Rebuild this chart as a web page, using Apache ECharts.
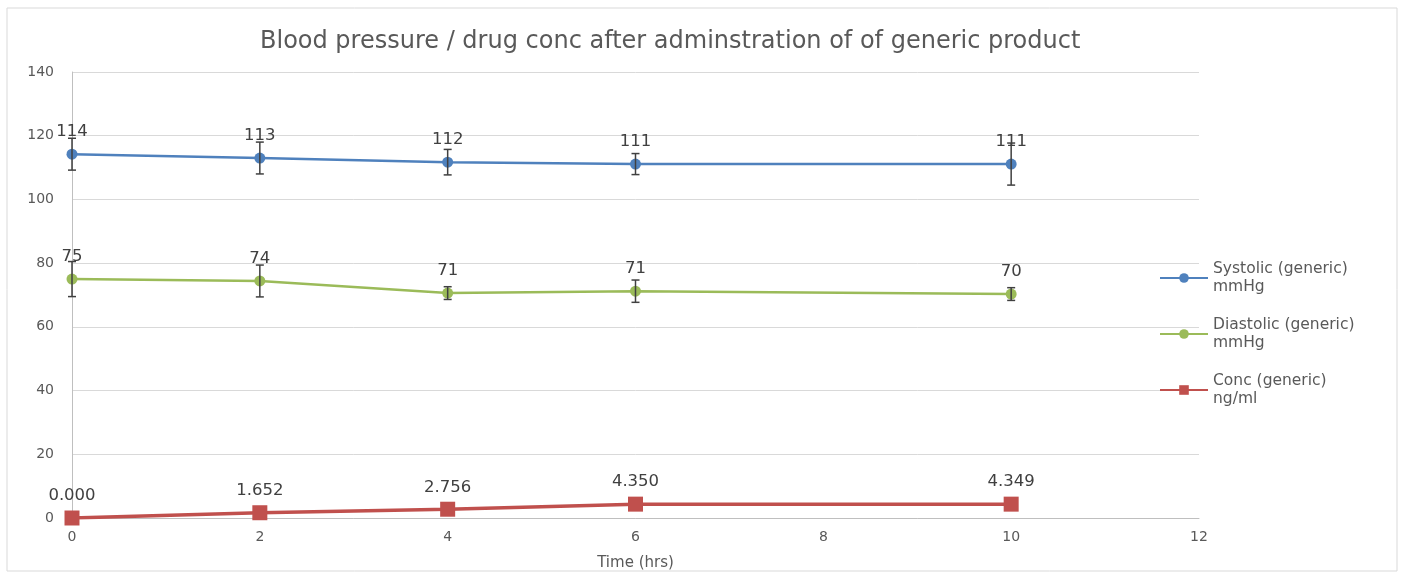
<!DOCTYPE html>
<html>
<head>
<meta charset="utf-8">
<script src="https://cdn.jsdelivr.net/npm/echarts@6/dist/echarts.min.js"></script>
<style>html,body{margin:0;padding:0;background:#fff}#chart{width:1405px;height:577px}</style>
</head>
<body>
<div id="chart"></div>
<script>
const timeHrs = [0, 2, 4, 6, 10];
const systolic = [114.2, 113.0, 111.7, 111.1, 111.1];
const systolicErr = [5, 5, 4, 3.3, 6.6];
const diastolic = [75.0, 74.4, 70.6, 71.2, 70.3];
const diastolicErr = [5.5, 5, 2, 3.5, 2];
const conc = [0.000, 1.652, 2.756, 4.350, 4.349];
const seriesNames = ['Systolic (generic)\nmmHg', 'Diastolic (generic)\nmmHg', 'Conc (generic)\nng/ml'];
const xTicks = [0, 2, 4, 6, 8, 10, 12];
const yTicks = [0, 20, 40, 60, 80, 100, 120, 140];
const titleText = 'Blood pressure / drug conc after adminstration of of generic product';

const FONT = 'DejaVu Sans';
const pairs = (ys) => timeHrs.map((t, i) => [t, ys[i]]);
const errData = (ys, es) => timeHrs.map((t, i) => [t, ys[i] - es[i], ys[i] + es[i]]);

function errorBar(params, api) {
  const x = api.value(0);
  const lo = api.coord([x, api.value(1)]);
  const hi = api.coord([x, api.value(2)]);
  const cap = 4;
  const st = { stroke: '#404040', lineWidth: 1.5 };
  return {
    type: 'group',
    children: [
      { type: 'line', shape: { x1: lo[0], y1: lo[1], x2: hi[0], y2: hi[1] }, style: st },
      { type: 'line', shape: { x1: lo[0] - cap, y1: lo[1], x2: lo[0] + cap, y2: lo[1] }, style: st },
      { type: 'line', shape: { x1: hi[0] - cap, y1: hi[1], x2: hi[0] + cap, y2: hi[1] }, style: st }
    ]
  };
}

const chart = echarts.init(document.getElementById('chart'), null, { renderer: 'canvas' });
chart.setOption({
  backgroundColor: '#fff',
  animation: false,
  graphic: [{
    type: 'rect', shape: { x: 7, y: 8, width: 1390, height: 563 },
    style: { fill: 'none', stroke: '#d9d9d9', lineWidth: 1 }, silent: true, z: -10
  }],
  title: {
    text: titleText, left: 255, top: 25,
    textStyle: { fontFamily: FONT, fontSize: 24, fontWeight: 'normal', color: '#595959' }
  },
  grid: { left: 72, right: 206, top: 72, bottom: 59 },
  legend: {
    orient: 'vertical', left: 1154, top: 246, itemGap: 2,
    itemWidth: 48, itemHeight: 12,
    data: seriesNames,
    textStyle: { fontFamily: FONT, fontSize: 15.5, color: '#595959', lineHeight: 18, padding: [18, 0, 0, 0] }
  },
  xAxis: {
    type: 'value', min: 0, max: 12, interval: 2,
    name: 'Time (hrs)', nameLocation: 'middle', nameGap: 38,
    nameTextStyle: { fontFamily: FONT, fontSize: 15, color: '#595959' },
    axisLine: { lineStyle: { color: '#bfbfbf' } },
    axisTick: { show: false },
    axisLabel: { fontFamily: FONT, fontSize: 14, color: '#595959', margin: 12 },
    splitLine: { show: false }
  },
  yAxis: {
    type: 'value', min: 0, max: 140, interval: 20,
    axisLine: { show: true, lineStyle: { color: '#bfbfbf' } },
    axisTick: { show: false },
    axisLabel: { fontFamily: FONT, fontSize: 14, color: '#595959', margin: 18 },
    splitLine: { lineStyle: { color: '#d9d9d9' } }
  },
  series: [
    {
      name: seriesNames[0], type: 'line', data: pairs(systolic),
      symbol: 'circle', symbolSize: 11,
      lineStyle: { color: '#4f81bd', width: 2.5 }, itemStyle: { color: '#4f81bd' },
      label: { show: true, position: 'top', distance: 8, fontFamily: FONT, fontSize: 16.5, color: '#404040',
        formatter: p => Math.round(p.value[1]).toString() },
      z: 3
    },
    {
      name: seriesNames[1], type: 'line', data: pairs(diastolic),
      symbol: 'circle', symbolSize: 11,
      lineStyle: { color: '#9bbb59', width: 2.5 }, itemStyle: { color: '#9bbb59' },
      label: { show: true, position: 'top', distance: 8, fontFamily: FONT, fontSize: 16.5, color: '#404040',
        formatter: p => Math.round(p.value[1]).toString() },
      z: 3
    },
    {
      name: seriesNames[2], type: 'line', data: pairs(conc),
      symbol: 'rect', symbolSize: 15,
      lineStyle: { color: '#c0504d', width: 3.5 }, itemStyle: { color: '#c0504d' },
      label: { show: true, position: 'top', distance: 6, fontFamily: FONT, fontSize: 16.5, color: '#404040',
        formatter: p => p.value[1].toFixed(3) },
      z: 3
    },
    { type: 'custom', renderItem: errorBar, data: errData(systolic, systolicErr), z: 5, silent: true },
    { type: 'custom', renderItem: errorBar, data: errData(diastolic, diastolicErr), z: 5, silent: true }
  ]
});
</script>
</body>
</html>
